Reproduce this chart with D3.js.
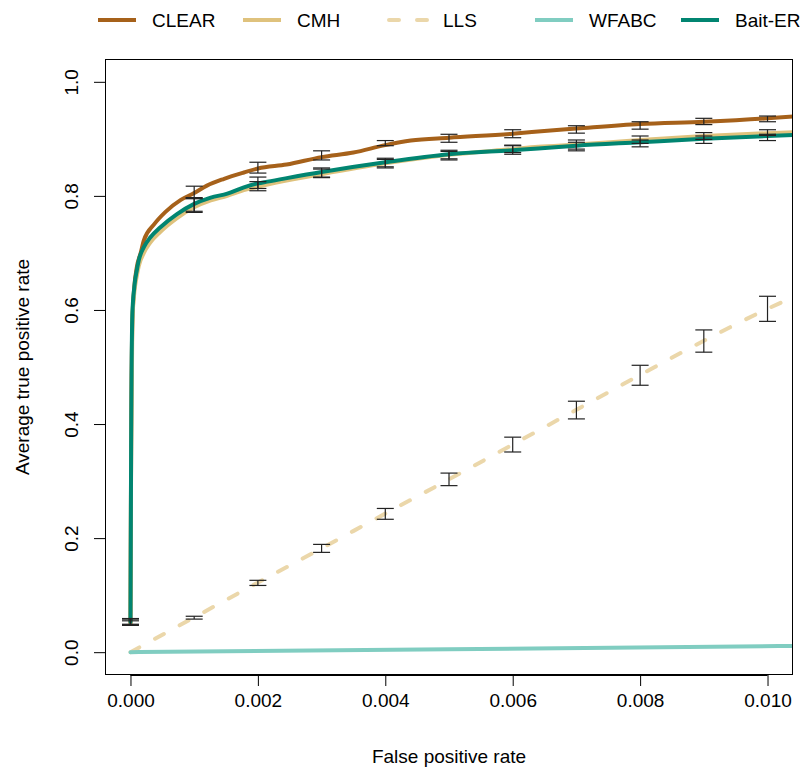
<!DOCTYPE html>
<html>
<head>
<meta charset="utf-8">
<script src="https://cdn.jsdelivr.net/npm/d3@7"></script>
<style>
  html, body { margin: 0; padding: 0; background: #fff; }
  svg { display: block; font-family: "Liberation Sans", Arial, Helvetica, sans-serif; }
</style>
</head>
<body>
<div id="chart"></div>
<script>
// ---------------- data ----------------
const seriesNames = ["CLEAR", "CMH", "LLS", "WFABC", "Bait-ER"];
const seriesColors = ["#A6611A", "#DFC27D", "#EBD7AA", "#80CDC1", "#018571"];

const clearFpr = [0, 0.00001, 0.00003, 0.00006, 0.0001, 0.00016, 0.00021, 0.00037, 0.00055, 0.00079, 0.001, 0.0012, 0.00147, 0.00178, 0.002, 0.00245, 0.003, 0.0035, 0.004, 0.0044, 0.005, 0.006, 0.0063, 0.007, 0.008, 0.009, 0.010, 0.0105];
const clearTpr = [0.05, 0.35, 0.58, 0.64, 0.675, 0.70, 0.722, 0.750, 0.772, 0.793, 0.805, 0.818, 0.830, 0.841, 0.848, 0.855, 0.868, 0.876, 0.889, 0.897, 0.902, 0.909, 0.912, 0.918, 0.926, 0.930, 0.936, 0.940];

const baitFpr = [0, 0.00001, 0.00003, 0.00006, 0.0001, 0.00013, 0.00021, 0.00031, 0.00047, 0.00073, 0.001, 0.00126, 0.00152, 0.00178, 0.002, 0.00215, 0.003, 0.004, 0.005, 0.006, 0.0064, 0.007, 0.008, 0.009, 0.010, 0.0105];
const baitTpr = [0.053, 0.36, 0.594, 0.64, 0.67, 0.687, 0.710, 0.727, 0.745, 0.768, 0.786, 0.797, 0.804, 0.815, 0.822, 0.825, 0.842, 0.859, 0.873, 0.880, 0.883, 0.888, 0.894, 0.900, 0.905, 0.907];

const cmhFpr = baitFpr;
const cmhTpr = [0.05, 0.34, 0.58, 0.63, 0.66, 0.677, 0.700, 0.718, 0.737, 0.761, 0.780, 0.792, 0.800, 0.810, 0.816, 0.820, 0.838, 0.857, 0.872, 0.882, 0.886, 0.890, 0.898, 0.905, 0.910, 0.912];

const llsFpr = [0, 0.001, 0.002, 0.003, 0.004, 0.005, 0.006, 0.007, 0.008, 0.009, 0.010, 0.0105];
const llsTpr = [0, 0.061, 0.122, 0.182, 0.243, 0.303, 0.364, 0.425, 0.486, 0.546, 0.602, 0.627];

const wfabcFpr = [0, 0.005, 0.0105];
const wfabcTpr = [0, 0.005, 0.011];

// error bars
const errFpr = [0, 0.001, 0.002, 0.003, 0.004, 0.005, 0.006, 0.007, 0.008, 0.009, 0.010];
const clearLo = [0.048, 0.795, 0.840, 0.863, 0.888, 0.894, 0.902, 0.910, 0.917, 0.925, 0.930];
const clearHi = [0.058, 0.817, 0.859, 0.879, 0.897, 0.908, 0.916, 0.923, 0.930, 0.936, 0.940];
const cmhLo = [0.049, 0.771, 0.809, 0.832, 0.851, 0.865, 0.876, 0.882, 0.892, 0.899, 0.906];
const cmhHi = [0.059, 0.796, 0.825, 0.847, 0.864, 0.880, 0.888, 0.898, 0.905, 0.911, 0.916];
const baitLo = [0.047, 0.773, 0.813, 0.833, 0.849, 0.863, 0.873, 0.879, 0.886, 0.892, 0.897];
const baitHi = [0.055, 0.797, 0.833, 0.849, 0.866, 0.878, 0.889, 0.894, 0.898, 0.905, 0.908];
const llsErrFpr = [0.001, 0.002, 0.003, 0.004, 0.005, 0.006, 0.007, 0.008, 0.009, 0.010];
const llsLo = [0.058, 0.117, 0.175, 0.233, 0.292, 0.351, 0.409, 0.468, 0.526, 0.580];
const llsHi = [0.063, 0.126, 0.189, 0.252, 0.314, 0.377, 0.440, 0.503, 0.565, 0.624];

const xTicks = [0, 0.002, 0.004, 0.006, 0.008, 0.010];
const yTicks = [0, 0.2, 0.4, 0.6, 0.8, 1.0];
const xTitle = "False positive rate";
const yTitle = "Average true positive rate";

// ---------------- drawing ----------------
const W = 810, H = 772;
const L = 105, R = 793, T = 59, B = 675;
const svg = d3.select("#chart").append("svg").attr("width", W).attr("height", H);

const x = d3.scaleLinear().domain([-0.0004, 0.0104]).range([L, R]);
const y = d3.scaleLinear().domain([-0.04, 1.04]).range([B, T]);

svg.append("clipPath").attr("id", "plotclip")
  .append("rect").attr("x", L).attr("y", T).attr("width", R - L).attr("height", B - T);

const plot = svg.append("g").attr("clip-path", "url(#plotclip)");
const line = d3.line().curve(d3.curveMonotoneX).x(d => x(d[0])).y(d => y(d[1]));
const zip = (a, b) => a.map((v, i) => [v, b[i]]);

const lines = [
  { data: zip(clearFpr, clearTpr), color: seriesColors[0], dash: null },
  { data: zip(cmhFpr, cmhTpr), color: seriesColors[1], dash: null },
  { data: zip(llsFpr, llsTpr), color: seriesColors[2], dash: "10,18" },
  { data: zip(wfabcFpr, wfabcTpr), color: seriesColors[3], dash: null },
  { data: zip(baitFpr, baitTpr), color: seriesColors[4], dash: null }
];
lines.forEach(s => {
  plot.append("path").datum(s.data)
    .attr("d", line)
    .attr("fill", "none")
    .attr("stroke", s.color)
    .attr("stroke-width", 4)
    .attr("stroke-linecap", "round")
    .attr("stroke-linejoin", "round")
    .attr("stroke-dasharray", s.dash);
});

// error bars
const errSets = [
  { xs: errFpr, lo: clearLo, hi: clearHi },
  { xs: errFpr, lo: cmhLo, hi: cmhHi },
  { xs: llsErrFpr, lo: llsLo, hi: llsHi },
  { xs: errFpr, lo: baitLo, hi: baitHi }
];
const capHalf = 8.5;
const eg = svg.append("g").attr("stroke", "#222").attr("stroke-width", 1.2).attr("fill", "none");
errSets.forEach(s => {
  s.xs.forEach((fx, i) => {
    const cx = x(fx), y0 = y(s.lo[i]), y1 = y(s.hi[i]);
    eg.append("line").attr("x1", cx).attr("x2", cx).attr("y1", y0).attr("y2", y1);
    eg.append("line").attr("x1", cx - capHalf).attr("x2", cx + capHalf).attr("y1", y0).attr("y2", y0);
    eg.append("line").attr("x1", cx - capHalf).attr("x2", cx + capHalf).attr("y1", y1).attr("y2", y1);
  });
});

// box
svg.append("rect").attr("x", L + 0.5).attr("y", T + 0.5)
  .attr("width", R - L - 1).attr("height", B - T - 1)
  .attr("fill", "none").attr("stroke", "#000").attr("stroke-width", 1);

// axes
const fs = 19;
const xAxis = d3.axisBottom(x).tickValues(xTicks).tickSize(11).tickPadding(8)
  .tickFormat(d3.format(".3f"));
const gx = svg.append("g").attr("transform", `translate(0,${B})`).call(xAxis);
gx.select(".domain").attr("d", `M${x(0)},0.5H${x(0.01)}`);
gx.selectAll("text").attr("font-size", fs).attr("font-family", "Liberation Sans, Arial, sans-serif").attr("fill", "#000");
gx.selectAll("line").attr("stroke", "#000");

const yAxis = d3.axisLeft(y).tickValues(yTicks).tickSize(11).tickFormat(d3.format(".1f"));
const gy = svg.append("g").attr("transform", `translate(${L},0)`).call(yAxis);
gy.select(".domain").attr("d", `M0.5,${y(0)}V${y(1)}`);
gy.selectAll("line").attr("stroke", "#000");
gy.selectAll("text")
  .attr("font-size", fs).attr("font-family", "Liberation Sans, Arial, sans-serif").attr("fill", "#000")
  .attr("x", null).attr("dy", null)
  .attr("text-anchor", "middle")
  .attr("transform", "translate(-27,0) rotate(-90)");

// titles
svg.append("text").attr("x", (L + R) / 2).attr("y", 763)
  .attr("text-anchor", "middle").attr("font-size", fs).text(xTitle);
svg.append("text").attr("transform", `translate(29,${(T + B) / 2}) rotate(-90)`)
  .attr("text-anchor", "middle").attr("font-size", fs).text(yTitle);

// legend
const legX = [98, 243, 389, 535, 681];
const lg = svg.append("g");
seriesNames.forEach((name, i) => {
  const g = lg.append("g").attr("transform", `translate(${legX[i]},20)`);
  g.append("line").attr("x1", 0).attr("x2", 38).attr("y1", 0).attr("y2", 0)
    .attr("stroke", seriesColors[i]).attr("stroke-width", 4)
    .attr("stroke-linecap", i === 2 ? "round" : "butt")
    .attr("stroke-dasharray", i === 2 ? "10,18" : null);
  g.append("text").attr("x", 54).attr("y", 0).attr("dy", "0.35em")
    .attr("font-size", fs).text(name);
});
</script>
</body>
</html>
